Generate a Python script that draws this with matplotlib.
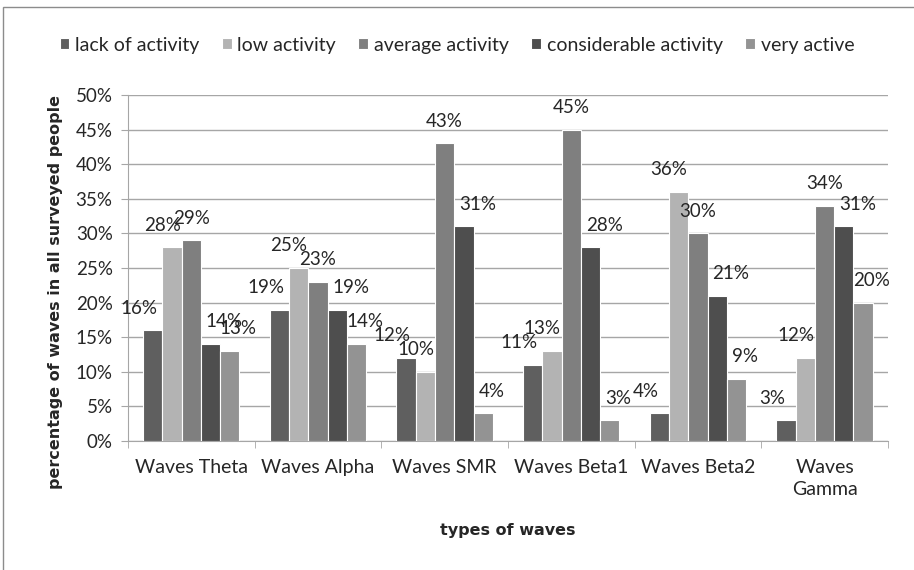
import numpy as np
import matplotlib.pyplot as plt
from matplotlib.patches import Rectangle
from matplotlib.ticker import MultipleLocator, FuncFormatter

plt.rcParams['font.family'] = ['Lato', 'DejaVu Sans']

# Data (percent of surveyed people)
waves = ['Waves Theta', 'Waves Alpha', 'Waves SMR', 'Waves Beta1', 'Waves Beta2', 'Waves\nGamma']
levels = ['lack of activity', 'low activity', 'average activity',
          'considerable activity', 'very active']
lack = [16, 19, 12, 11, 4, 3]
low = [28, 25, 10, 13, 36, 12]
average = [29, 23, 43, 45, 30, 34]
considerable = [14, 19, 31, 28, 21, 31]
very_active = [13, 14, 4, 3, 9, 20]

series = [lack, low, average, considerable, very_active]
colors = ['#5f5f5f', '#b3b3b3', '#7f7f7f', '#4e4e4e', '#939393']
label_dx = [-10, -7, 0, 10, 6]   # horizontal nudge of value labels, in points

fig = plt.figure(figsize=(9.14, 5.70), dpi=100)
ax = fig.add_axes([0.140, 0.2263, 0.8315, 0.607])

x = np.arange(len(waves))
w = 0.152
for i, (vals, name) in enumerate(zip(series, levels)):
    pos = x + (i - 2) * w
    v = np.array(vals) / 100
    ax.bar(pos, v, width=w, color=colors[i], edgecolor='white', linewidth=0.8,
           label=name, zorder=3)
    for xp, yv, val in zip(pos, v, vals):
        ax.annotate(f'{val}%', (xp, yv), xytext=(label_dx[i], 16),
                    textcoords='offset points', ha='center', va='center',
                    fontsize=13.5, color='#262626', zorder=4)

ax.set_xlim(-0.5, len(waves) - 0.5)
ax.set_ylim(0, 0.5)
ax.yaxis.set_major_locator(MultipleLocator(0.05))
ax.yaxis.set_major_formatter(FuncFormatter(lambda v, p: f'{v * 100:.0f}%'))
ax.grid(axis='y', color='#a6a6a6', linewidth=1, zorder=0)

ax.set_xticks(x)
ax.set_xticklabels(waves, fontsize=14, color='#262626', linespacing=1.35)
ax.set_xticks(np.arange(len(waves) + 1) - 0.5, minor=True)
ax.tick_params(axis='x', which='major', length=0, pad=13)
ax.tick_params(axis='x', which='minor', length=5, color='#a6a6a6')
ax.tick_params(axis='y', length=5, color='#a6a6a6', labelsize=13.5,
               labelcolor='#262626', pad=6)

for s in ['top', 'right']:
    ax.spines[s].set_visible(False)
for s in ['left', 'bottom']:
    ax.spines[s].set_color('#a6a6a6')

ax.set_ylabel('percentage of waves in all surveyed people', fontsize=11.5,
              fontweight='bold', color='#262626', family='DejaVu Sans')
ax.yaxis.set_label_coords(-0.085, 0.43)
ax.set_xlabel('types of waves', fontsize=11.5, fontweight='bold',
              color='#262626', family='DejaVu Sans')
ax.xaxis.set_label_coords(0.5, -0.237)

fig.legend(loc='center', bbox_to_anchor=(0.5, 1 - 45 / 570), ncol=5,
           frameon=False, fontsize=14, handlelength=0.5, handleheight=0.5,
           handletextpad=0.3, columnspacing=1.15, labelcolor='#262626')

# chart frame
fig.add_artist(Rectangle((3 / 914, -0.2), 1.2, 1.2 - 7 / 570,
                         transform=fig.transFigure, fill=False,
                         edgecolor='#8c8c8c', linewidth=1))

fig.savefig('out.png', dpi=100)
